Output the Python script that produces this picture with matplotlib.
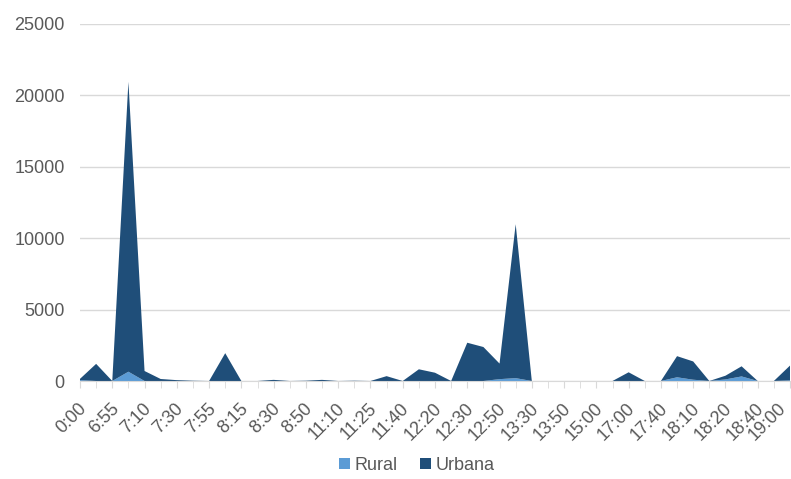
import matplotlib.pyplot as plt
import matplotlib.transforms as mtransforms
import numpy as np

plt.rcParams['font.family'] = ['Liberation Sans', 'DejaVu Sans']

etiquetas = ['0:00', '6:55', '7:10', '7:30', '7:55', '8:15', '8:30', '8:50',
             '11:10', '11:25', '11:40', '12:20', '12:30', '12:50', '13:30',
             '13:50', '15:00', '17:00', '17:40', '18:10', '18:20', '18:40', '19:00']

rural = [60, 0, 0, 650, 0, 0, 0, 0, 0, 0, 0, 0, 0, 0, 0,
         0, 0, 0, 0, 0, 0, 0, 0, 0, 0, 0, 130, 200, 0, 0,
         0, 0, 0, 0, 0, 0, 0, 260, 90, 0, 110, 320, 0, 0, 40]
urbana = [90, 1200, 0, 20300, 700, 140, 60, 20, 0, 1950, 0, 0, 80, 0, 20,
          80, 0, 20, 0, 340, 0, 820, 580, 0, 2680, 2380, 1090, 10780, 0, 0,
          0, 0, 0, 0, 610, 0, 0, 1480, 1280, 0, 260, 710, 0, 0, 1040]

x = np.arange(len(rural))

fig = plt.figure(figsize=(7.91, 4.79), dpi=100)
ax = fig.add_axes([80 / 791, 98 / 479, 710 / 791, 357 / 479])

ax.stackplot(x, rural, urbana, colors=['#5b9bd5', '#1f4e79'],
             labels=['Rural', 'Urbana'], linewidth=0)

ax.set_xlim(0, len(x) - 1)
ax.set_ylim(0, 25000)
ax.set_yticks(range(0, 25001, 5000))
ax.grid(axis='y', color='#d9d9d9', linewidth=1)
ax.set_axisbelow(True)

# etiquetas a cada dois pontos, marcas em todos
ax.set_xticks(x[::2])
ax.set_xticklabels(etiquetas, rotation=45, ha='right', va='center',
                   rotation_mode='anchor')
ax.set_xticks(x, minor=True)
ax.tick_params(axis='x', which='both', length=5, color='#d9d9d9',
               labelsize=13, labelcolor='#595959', pad=13)
ax.tick_params(axis='y', length=0, labelsize=13, labelcolor='#595959', pad=11)

rotulos = ax.get_xticklabels()
for i, rotulo in enumerate(rotulos):
    dx = 4 if i < len(rotulos) - 1 else -7  # o último fica rente à borda
    desloc = mtransforms.ScaledTranslation(dx / 100, 0, fig.dpi_scale_trans)
    rotulo.set_transform(rotulo.get_transform() + desloc)

for lado in ['top', 'right', 'left']:
    ax.spines[lado].set_visible(False)
ax.spines['bottom'].set_color('#d9d9d9')

fig.legend(loc='center', bbox_to_anchor=(0.527, 0.028), ncol=2, frameon=False,
           fontsize=13, handlelength=0.6, handleheight=0.6, handletextpad=0.3,
           columnspacing=1.2, labelcolor='#595959')

fig.savefig('out.png', dpi=100)
